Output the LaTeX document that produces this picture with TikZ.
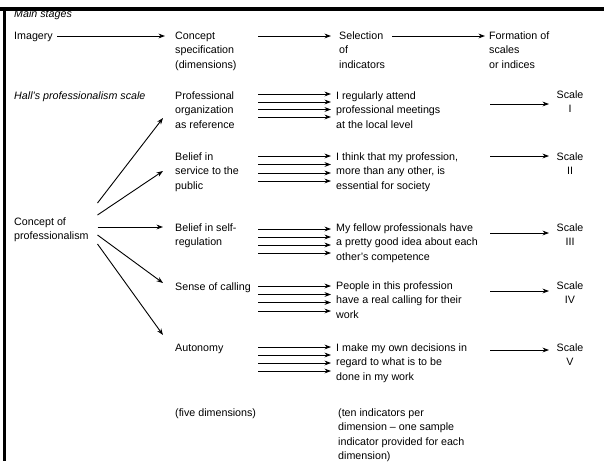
\documentclass[tikz,border=0pt]{standalone}
\usepackage{fontspec}
\setmainfont{Liberation Sans}
\usetikzlibrary{arrows.meta}
\begin{document}
\begin{tikzpicture}[x=1pt,y=-1pt,
  txt/.style={inner sep=0pt, anchor=north west, align=left, font=\fontsize{10.7}{14.5}\selectfont},
  sctxt/.style={inner sep=0pt, anchor=north, align=center, font=\fontsize{10.7}{14.5}\selectfont},
  arr/.style={-{Stealth[length=6.5pt,width=4.8pt]}, line width=0.9pt},
  frame/.style={line width=3.2pt}
]
\useasboundingbox (0,0) rectangle (609,461);

% header row
\node[txt, font=\fontsize{10.7}{14.5}\selectfont\itshape] (main) at (14,7.6) {\strut Main stages};
\node[txt] (imagery) at (14,28.85) {\strut Imagery};
\node[txt] (concept) at (175,28.85) {\strut Concept\\specification\\(dimensions)};
\node[txt] (selection) at (339,28.85) {\strut Selection\\of\\indicators};
\node[txt] (formation) at (489,28.85) {\strut Formation of\\scales\\or indices};

\coordinate (h1s) at (57,36);  \coordinate (h1e) at (165,36);
\coordinate (h2s) at (258,36); \coordinate (h2e) at (331,36);
\coordinate (h3s) at (392,36); \coordinate (h3e) at (485,36);
\draw[arr] (h1s) -- (h1e);
\draw[arr] (h2s) -- (h2e);
\draw[arr] (h3s) -- (h3e);

% Hall's scale
\node[txt, font=\fontsize{10.7}{14.5}\selectfont\itshape] (hall) at (14,88.85) {\strut Hall's professionalism scale};
\node[txt] (prof) at (14,214.85) {\strut Concept of\\professionalism};

\node[txt] (dim1) at (175,88.85) {\strut Professional\\organization\\as reference};
\node[txt] (dim2) at (175,149.85) {\strut Belief in\\service to the\\public};
\node[txt] (dim3) at (175,220.85) {\strut Belief in self-\\regulation};
\node[txt] (dim4) at (175,279.85) {\strut Sense of calling};
\node[txt] (dim5) at (175,340.85) {\strut Autonomy};

\node[txt] (ind1) at (336,88.85) {\strut I regularly attend\\professional meetings\\at the local level};
\node[txt] (ind2) at (336,149.85) {\strut I think that my profession,\\more than any other, is\\essential for society};
\node[txt] (ind3) at (336,220.85) {\strut My fellow professionals have\\a pretty good idea about each\\other's competence};
\node[txt] (ind4) at (336,278.85) {\strut People in this profession\\have a real calling for their\\work};
\node[txt] (ind5) at (336,340.85) {\strut I make my own decisions in\\regard to what is to be\\done in my work};

\node[sctxt] (sc1) at (570,87.85) {\strut Scale\\I};
\node[sctxt] (sc2) at (570,149.85) {\strut Scale\\II};
\node[sctxt] (sc3) at (570,220.85) {\strut Scale\\III};
\node[sctxt] (sc4) at (570,278.85) {\strut Scale\\IV};
\node[sctxt] (sc5) at (570,340.85) {\strut Scale\\V};

\node[txt] (five) at (175,405.85) {\strut (five dimensions)};
\node[txt] (ten) at (338,405.85) {\strut (ten indicators per\\dimension \textendash{} one sample\\indicator provided for each\\dimension)};

% fan from concept of professionalism
\foreach \i/\sy/\ty in {1/203/118, 2/215/171, 3/227/227, 4/235/283, 5/244/335} {
  \coordinate (f\i) at (97.5,\sy);
  \coordinate (t\i) at (163,\ty);
  \draw[arr] (f\i) -- (t\i);
}

% bundles of indicator arrows
\foreach \r/\ys in {1/{94,102,109.5,117}, 2/{156,164.5,173,181}, 3/{229,237,245,253}, 4/{286,294.5,302.5,311}, 5/{347,355,363,371}} {
  \foreach \y [count=\i] in \ys {
    \coordinate (b\r s\i) at (258,\y);
    \coordinate (b\r e\i) at (331,\y);
    \draw[arr] (b\r s\i) -- (b\r e\i);
  }
}

% arrows to scales
\foreach \r/\y in {1/104, 2/156, 3/233, 4/291, 5/350} {
  \coordinate (s\r a) at (490,\y);
  \coordinate (s\r b) at (549,\y);
  \draw[arr] (s\r a) -- (s\r b);
}

% frame
\draw[frame] (0,9) -- (604,9);
\draw[line width=2.7pt] (4.7,9) -- (4.7,461);
\end{tikzpicture}
\end{document}
